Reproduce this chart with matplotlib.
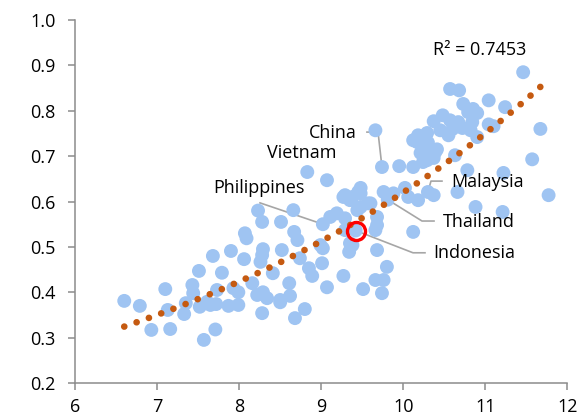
import numpy as np
import matplotlib
matplotlib.use("Agg")
import matplotlib.pyplot as plt

plt.rcParams['font.family'] = ['Open Sans', 'DejaVu Sans']

# log income (x) vs index (y)
gdp = [6.60, 6.79, 6.93, 7.10, 7.13, 7.16, 7.33, 7.35, 7.43, 7.44, 7.51, 7.52, 7.57,
       7.61, 7.65, 7.71, 7.68, 7.73, 7.72, 7.79, 7.87, 7.90, 7.93, 7.99, 7.99,
       8.06, 8.07, 8.09, 8.16, 8.22, 8.28, 8.29, 8.28, 8.28, 8.23, 8.34, 8.41, 8.50,
       8.52, 8.51, 8.66, 8.67, 8.71, 8.26, 8.74, 8.85, 8.89, 8.61, 8.62, 8.29, 8.68,
       8.80, 8.50,
       9.01, 8.99, 9.02, 9.07, 9.27, 9.51, 9.66, 9.11, 9.19, 9.29, 9.27, 9.35, 9.48,
       9.48, 9.60, 9.68, 9.68, 9.38, 9.34, 9.68, 9.07, 9.29, 9.48, 9.66, 9.76, 9.45,
       9.38, 9.57, 9.44, 9.66, 9.80, 9.76, 9.74, 9.29, 9.35, 9.88,
       9.95, 10.12, 10.24, 10.33, 10.39, 10.78, 10.02, 10.06, 10.18, 10.37, 10.66,
       10.88, 11.21, 10.12, 11.22, 11.57, 11.67, 11.77, 11.46,
       10.57, 10.68, 11.04, 11.24, 10.73, 10.85, 10.90, 10.79, 10.48, 10.37, 10.57,
       10.67, 10.84, 10.72, 10.82, 11.04, 11.10, 10.90, 10.55, 10.45, 10.18, 10.29,
       10.17, 10.24, 10.21, 10.41, 10.29, 10.37, 10.63, 10.60, 10.30, 10.12]
score = [0.381, 0.370, 0.317, 0.407, 0.361, 0.319, 0.352, 0.376, 0.416, 0.398, 0.447, 0.368, 0.295,
         0.379, 0.372, 0.318, 0.480, 0.405, 0.374, 0.443, 0.370, 0.491, 0.409, 0.400, 0.372,
         0.473, 0.530, 0.519, 0.420, 0.394, 0.482, 0.495, 0.354, 0.555, 0.580, 0.387, 0.442, 0.383,
         0.493, 0.555, 0.581, 0.533, 0.515, 0.467, 0.475, 0.453, 0.436, 0.420, 0.392, 0.400, 0.343,
         0.363, 0.378,
         0.464, 0.504, 0.497, 0.411, 0.436, 0.407, 0.427, 0.566, 0.574, 0.563, 0.610, 0.603, 0.618,
         0.588, 0.596, 0.566, 0.548, 0.504, 0.489, 0.493, 0.647, 0.614, 0.630, 0.757, 0.621, 0.621,
         0.610, 0.596, 0.581, 0.537, 0.456, 0.427, 0.398, 0.537, 0.508, 0.618,
         0.678, 0.676, 0.687, 0.702, 0.709, 0.669, 0.630, 0.610, 0.603, 0.614, 0.621,
         0.588, 0.577, 0.533, 0.663, 0.693, 0.760, 0.614, 0.885,
         0.848, 0.845, 0.823, 0.808, 0.815, 0.804, 0.795, 0.797, 0.790, 0.777, 0.779,
         0.775, 0.775, 0.762, 0.757, 0.770, 0.766, 0.742, 0.746, 0.757, 0.746, 0.751,
         0.731, 0.720, 0.707, 0.715, 0.691, 0.696, 0.702, 0.760, 0.730, 0.735]

countries = ['China', 'Vietnam', 'Philippines', 'Malaysia', 'Thailand', 'Indonesia']
country_x = [9.74, 8.83, 9.02, 10.30, 9.81, 9.42]
country_y = [0.676, 0.665, 0.550, 0.621, 0.604, 0.536]

r2_text = 'R² = 0.7453'

x = np.array(gdp + country_x)
y = np.array(score + country_y)

# exponential trend, like excel does it
b, a = np.polyfit(x, np.log(y), 1)
xs = np.linspace(x.min(), x.max(), 400)
ys = np.exp(a) * np.exp(b * xs)

fig = plt.figure(figsize=(5.8, 4.19), dpi=100)
ax = fig.add_axes([0.1293, 0.0859, 0.8491, 0.8663])

ax.scatter(x, y, s=100, color='#9FC4F2', edgecolors='none', zorder=2)
ax.plot(xs, ys, color='#C55A11', lw=4.8, linestyle=(0, (0.01, 1.95)),
        dash_capstyle='round', zorder=3)

# Indonesia highlighted
ax.plot(country_x[5], country_y[5], 'o', ms=13, mfc='none', mec='#FF0000',
        mew=2.4, zorder=4)

fs = 13
# label spots + leader elbows
lab = {
    'China': (8.85, 0.751, [(9.557, 0.753), (9.692, 0.753)]),
    'Vietnam': (8.34, 0.707, None),
    'Philippines': (7.68, 0.630, [(8.254, 0.597)]),
    'Malaysia': (10.58, 0.643, [(10.471, 0.645), (10.337, 0.645)]),
    'Thailand': (10.48, 0.555, [(10.374, 0.557), (10.228, 0.557)]),
    'Indonesia': (10.37, 0.487, [(10.264, 0.487), (10.118, 0.487)]),
}
for name, cx, cy in zip(countries, country_x, country_y):
    tx, ty, elbow = lab[name]
    ax.text(tx, ty, name, fontsize=fs, ha='left', va='center', color='#000000', zorder=5)
    if elbow:
        px = [p[0] for p in elbow] + [cx]
        py = [p[1] for p in elbow] + [cy]
        ax.plot(px, py, color='#A6A6A6', lw=1.2, zorder=1.5)

ax.text(10.36, 0.934, r2_text, fontsize=fs, ha='left', va='center')

ax.set_xlim(6, 12)
ax.set_ylim(0.2, 1.0)
ax.set_xticks(np.arange(6, 13, 1))
ax.set_yticks(np.arange(0.2, 1.01, 0.1))
ax.set_yticklabels([f'{v:.1f}' for v in np.arange(0.2, 1.01, 0.1)])
for s in ['top', 'right']:
    ax.spines[s].set_visible(False)
for s in ['left', 'bottom']:
    ax.spines[s].set_color('#8C8C8C')
    ax.spines[s].set_linewidth(1.1)
ax.tick_params(axis='both', colors='#8C8C8C', length=5, width=1.1, labelsize=fs,
               labelcolor='#000000')
ax.tick_params(axis='y', pad=9)
ax.tick_params(axis='x', pad=6)

fig.savefig('out.png', dpi=100)
